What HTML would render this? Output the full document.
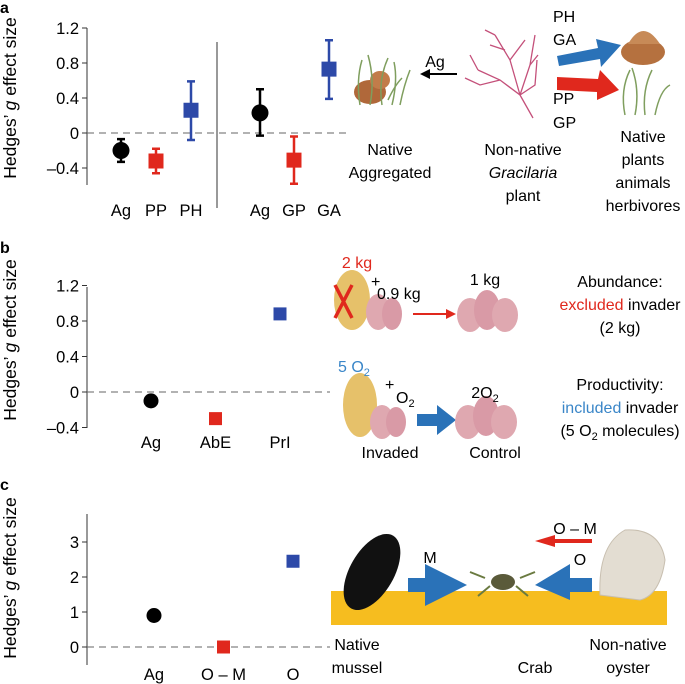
<!DOCTYPE html>
<html><head><meta charset="utf-8"><style>
body{margin:0;background:#fff}
svg{display:block;font-family:"Liberation Sans",Arial,sans-serif}
</style></head><body>
<svg id="fig" width="685" height="684" viewBox="0 0 685 684">
<g id="static">
<text x="0" y="13" font-size="16" font-weight="bold">a</text>
<text x="0" y="253" font-size="16" font-weight="bold">b</text>
<text x="0" y="490" font-size="16" font-weight="bold">c</text>
<text transform="translate(16,98) rotate(-90)" text-anchor="middle" font-size="17.5">Hedges’ <tspan font-style="italic">g</tspan> effect size</text>
<text transform="translate(16,340) rotate(-90)" text-anchor="middle" font-size="17.5">Hedges’ <tspan font-style="italic">g</tspan> effect size</text>
<text transform="translate(16,578) rotate(-90)" text-anchor="middle" font-size="17.5">Hedges’ <tspan font-style="italic">g</tspan> effect size</text>

<g>
<ellipse cx="370" cy="92" rx="16" ry="12" fill="#b0683a"/>
<ellipse cx="380" cy="80" rx="10" ry="9" fill="#c27c4a"/>
<g stroke="#7f9e5e" stroke-width="1.5" fill="none">
<path d="M360 105 Q356 80 362 60"/><path d="M370 105 Q375 80 368 55"/><path d="M382 105 Q378 80 388 58"/><path d="M392 105 Q398 80 394 62"/><path d="M400 105 Q404 85 410 70"/><path d="M388 100 Q395 85 402 78"/>
</g></g>
<text x="435" y="67" text-anchor="middle" font-size="16">Ag</text>
<path d="M457 73 L430 73 L430 69 L420 74 L430 79 L430 75 L457 75 Z" fill="#000"/>
<g stroke="#c4507a" stroke-width="1.3" fill="none">
<path d="M533 118 L520 95 L500 80 L478 70"/><path d="M520 95 L510 60 L495 35"/><path d="M520 95 L530 65 L535 35"/><path d="M510 60 L525 40"/><path d="M500 80 L480 85 L465 78"/><path d="M530 65 L538 55"/><path d="M520 95 L535 85 L537 60"/><path d="M495 35 L485 30"/><path d="M478 70 L470 55"/><path d="M505 50 L490 45"/>
</g>
<text x="553" y="22" font-size="16">PH</text>
<text x="553" y="45" font-size="16">GA</text>
<path d="M557 56 L598 48 L596 39 L621 45 L601 67 L600 59 L559 66 Z" fill="#2a72b8"/>
<path d="M557 77 L598 79 L600 70 L619 90 L597 100 L597 92 L557 90 Z" fill="#e0281d"/>
<text x="553" y="104" font-size="16">PP</text>
<text x="553" y="128" font-size="16">GP</text>
<g>
<ellipse cx="643" cy="52" rx="22" ry="13" fill="#b5713f"/><path d="M628 44 Q643 18 660 44 Z" fill="#c78a57"/>
<g stroke="#7f9e5e" stroke-width="1.5" fill="none"><path d="M625 115 Q620 90 630 70"/><path d="M635 115 Q640 90 632 68"/><path d="M645 115 Q642 90 652 70"/><path d="M655 115 Q660 90 670 85"/></g></g>
<g font-size="16" text-anchor="middle">
<text x="390" y="155">Native</text>
<text x="390" y="178">Aggregated</text>
<text x="523" y="155">Non-native</text>
<text x="523" y="178" font-style="italic">Gracilaria</text>
<text x="523" y="201">plant</text>
<text x="643" y="142">Native</text>
<text x="643" y="165">plants</text>
<text x="643" y="188">animals</text>
<text x="643" y="211">herbivores</text>
</g>

<g><ellipse cx="352" cy="300" rx="18" ry="30" fill="#e6c16a"/><ellipse cx="378" cy="312" rx="12" ry="18" fill="#dfa8b0"/><ellipse cx="392" cy="314" rx="10" ry="16" fill="#d99aa6"/></g>
<path d="M335 285 L352 318 M352 285 L335 318" stroke="#e0281d" stroke-width="3.5"/>
<path d="M413 314 L448 314" stroke="#e0281d" stroke-width="2"/><path d="M446 309 L456 314 L446 319 Z" fill="#e0281d"/>
<g><ellipse cx="470" cy="315" rx="13" ry="17" fill="#dfa8b0"/><ellipse cx="487" cy="310" rx="13" ry="20" fill="#d99aa6"/><ellipse cx="505" cy="315" rx="13" ry="17" fill="#dfa8b0"/></g>
<g><ellipse cx="360" cy="405" rx="17" ry="32" fill="#e6c16a"/><ellipse cx="382" cy="422" rx="12" ry="17" fill="#dfa8b0"/><ellipse cx="396" cy="422" rx="10" ry="15" fill="#d99aa6"/></g>
<path d="M417 414 L437 414 L437 405 L456 420 L437 435 L437 426 L417 426 Z" fill="#2a72b8"/>
<g><ellipse cx="468" cy="422" rx="13" ry="17" fill="#dfa8b0"/><ellipse cx="486" cy="416" rx="13" ry="20" fill="#d99aa6"/><ellipse cx="504" cy="422" rx="13" ry="17" fill="#dfa8b0"/></g>
<g font-size="16">
<text x="357" y="268" text-anchor="middle" fill="#e0281d">2 kg</text>
<text x="371" y="287">+</text>
<text x="377" y="299">0.9 kg</text>
<text x="485" y="285" text-anchor="middle">1 kg</text>
<text x="620" y="287" text-anchor="middle">Abundance:</text>
<text x="620" y="310" text-anchor="middle"><tspan fill="#e0281d">excluded</tspan> invader</text>
<text x="620" y="333" text-anchor="middle">(2 kg)</text>
<text x="338" y="372" fill="#3a86c8">5 O<tspan font-size="11" dy="4">2</tspan></text>
<text x="385" y="390">+</text>
<text x="396" y="403">O<tspan font-size="11" dy="4">2</tspan></text>
<text x="485" y="398" text-anchor="middle">2O<tspan font-size="11" dy="4">2</tspan></text>
<text x="620" y="390" text-anchor="middle">Productivity:</text>
<text x="620" y="413" text-anchor="middle"><tspan fill="#3a86c8">included</tspan> invader</text>
<text x="620" y="436" text-anchor="middle">(5 O<tspan font-size="11" dy="4">2</tspan><tspan dy="-4"> molecules)</tspan></text>
<text x="390" y="458" text-anchor="middle">Invaded</text>
<text x="495" y="458" text-anchor="middle">Control</text>
</g>

<rect x="331" y="591" width="336" height="34" fill="#f6bd1f"/>
<ellipse cx="372" cy="572" rx="22" ry="42" transform="rotate(30 372 572)" fill="#111"/>
<text x="430" y="563" text-anchor="middle" font-size="16">M</text>
<path d="M408 578 L425 578 L425 564 L467 585 L425 606 L425 592 L408 592 Z" fill="#2a72b8"/>
<g><ellipse cx="503" cy="582" rx="12" ry="8" fill="#5a5a3a"/><path d="M485 578 L470 572 M520 578 L535 572 M490 586 L478 596 M516 586 L528 596" stroke="#6a7a40" stroke-width="2"/></g>
<text x="580" y="565" text-anchor="middle" font-size="16">O</text>
<path d="M592 578 L570 578 L570 564 L535 585 L570 600 L570 592 L592 592 Z" fill="#2a72b8"/>
<text x="575" y="534" text-anchor="middle" font-size="16">O – M</text>
<path d="M592 541 L552 541" stroke="#e0281d" stroke-width="4"/><path d="M555 535 L535 541 L555 547 Z" fill="#e0281d"/>
<path d="M600 595 Q598 545 625 530 Q660 528 665 560 Q660 595 640 600 Z" fill="#e3ddd2" stroke="#c8bfb0"/>
<g font-size="16" text-anchor="middle">
<text x="357" y="650">Native</text>
<text x="357" y="673">mussel</text>
<text x="535" y="673">Crab</text>
<text x="628" y="650">Non-native</text>
<text x="628" y="673">oyster</text>
</g>
</g>
<g id="charts"></g>
</svg>
<script>
// Panel a data
const catsA = ["Ag","PP","PH","Ag","GP","GA"];
const valsA = [-0.2,-0.32,0.26,0.23,-0.31,0.73];
const loA = [-0.33,-0.46,-0.08,-0.03,-0.58,0.39];
const hiA = [-0.07,-0.18,0.59,0.5,-0.04,1.06];
const colA = ["#000","#e0281d","#2d49a8","#000","#e0281d","#2d49a8"];
const shapeA = ["circle","square","square","circle","square","square"];
const ticksA = [1.2,0.8,0.4,0,-0.4];
// Panel b data
const catsB = ["Ag","AbE","PrI"];
const valsB = [-0.1,-0.3,0.88];
const colB = ["#000","#e0281d","#2d49a8"];
const shapeB = ["circle","square","square"];
const ticksB = [1.2,0.8,0.4,0,-0.4];
// Panel c data
const catsC = ["Ag","O – M","O"];
const valsC = [0.9,0,2.45];
const colC = ["#000","#e0281d","#2d49a8"];
const shapeC = ["circle","square","square"];
const ticksC = [3,2,1,0];

const NS="http://www.w3.org/2000/svg";
const root=document.getElementById('charts');
function mk(tag,attrs,parent){const e=document.createElementNS(NS,tag);for(const k in attrs)e.setAttribute(k,attrs[k]);(parent||root).appendChild(e);return e;}
const yA=v=>133-v*87.5, yB=v=>392-v*88.75, yC=v=>647-v*35;
const xA=i=>[121,156,191,260,294,329][i];
const xB=i=>151+i*64.5, xC=i=>154+i*69.5;

function axis(panel,yf,ticks,top,bottom,zeroEnd,fmt){
  const g=mk('g',{});
  
  
  mk('line',{x1:87,x2:87,y1:top,y2:bottom,stroke:'#333','stroke-width':1},g);
  ticks.forEach(t=>{
    mk('line',{x1:82,x2:87,y1:yf(t),y2:yf(t),stroke:'#333'},g);
    const tx=mk('text',{x:79,y:yf(t)+6,'text-anchor':'end','font-size':16.5},g);
    tx.textContent=fmt(t);
    
    
  });
  const z=mk('line',{x1:87,x2:zeroEnd,y1:yf(0),y2:yf(0),stroke:'#666','stroke-dasharray':'7,5'},root);
  
  
}
const f1=t=>t===0?'0':(t<0?'–'+Math.abs(t).toFixed(1):t.toFixed(1));
axis('a',yA,ticksA,28,185,350,f1);
axis('b',yB,ticksB,287,428,330,f1);
axis('c',yC,ticksC,514,665,330,t=>String(t));
const div=mk('line',{x1:217,x2:217,y1:42,y2:208,stroke:'#333'});



function marker(x,y,shape,col,size,name){
  let e;
  if(shape==='circle') e=mk('circle',{cx:x,cy:y,r:size/2+1,fill:col});
  else e=mk('rect',{x:x-size/2,y:y-size/2,width:size,height:size,fill:col});
  
  
}
function label(x,y,t){
  const e=mk('text',{x:x,y:y,'text-anchor':'middle','font-size':16.5});
  e.textContent=t;
  
  
}
catsA.forEach((c,i)=>{
  const x=xA(i);
  const eb=mk('path',{d:`M${x} ${yA(loA[i])}V${yA(hiA[i])}M${x-4} ${yA(loA[i])}H${x+4}M${x-4} ${yA(hiA[i])}H${x+4}`,stroke:colA[i],'stroke-width':2.5,fill:'none'});
  
  
  marker(x,yA(valsA[i]),shapeA[i],colA[i],15,'point-'+c.toLowerCase());
  label(x,216,c);
});
catsB.forEach((c,i)=>{marker(xB(i),yB(valsB[i]),shapeB[i],colB[i],13,'point-b-'+i);label(xB(i),448,c);});
catsC.forEach((c,i)=>{marker(xC(i),yC(valsC[i]),shapeC[i],colC[i],13,'point-c-'+i);label(xC(i),680,c);});
</script>
</body></html>
